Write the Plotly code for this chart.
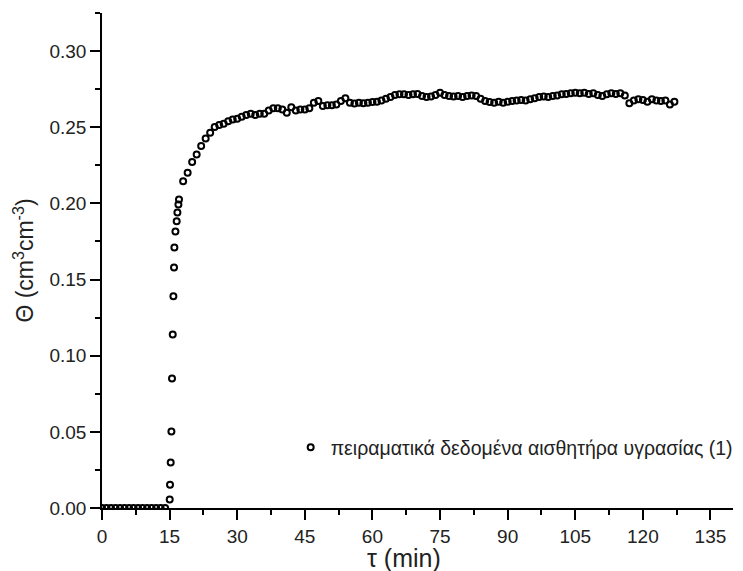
import plotly.graph_objects as go

# time (min) and volumetric water content readings
t_zero = [0, 1, 2, 3, 4, 5, 6, 7, 8, 9, 10, 11, 12, 13, 14]
v_zero = [0.0] * len(t_zero)

t_rise = [15.02, 15.09, 15.24, 15.40, 15.53, 15.69, 15.84, 15.98, 16.06, 16.29,
          16.57, 16.73, 16.95, 17.08]
v_rise = [0.0055, 0.0153, 0.0298, 0.0503, 0.0850, 0.1139, 0.1390, 0.1579, 0.1710,
          0.1816, 0.1883, 0.1940, 0.1993, 0.2026]

t_plateau = list(range(18, 128))
v_plateau = [
    0.2146, 0.2201, 0.2271, 0.2321, 0.2376, 0.2426, 0.2464, 0.2501, 0.2514, 0.2523,  # 18-27
    0.2540, 0.2551, 0.2556, 0.2569, 0.2580, 0.2589, 0.2580, 0.2589, 0.2589, 0.2610,  # 28-37
    0.2624, 0.2624, 0.2617, 0.2595, 0.2632, 0.2610, 0.2617, 0.2617, 0.2624, 0.2661,  # 38-47
    0.2672, 0.2639, 0.2645, 0.2645, 0.2650, 0.2672, 0.2690, 0.2661, 0.2655, 0.2661,  # 48-57
    0.2658, 0.2661, 0.2665, 0.2668, 0.2676, 0.2687, 0.2698, 0.2712, 0.2716, 0.2716,  # 58-67
    0.2712, 0.2716, 0.2719, 0.2705, 0.2698, 0.2702, 0.2712, 0.2727, 0.2712, 0.2705,  # 68-77
    0.2701, 0.2705, 0.2698, 0.2705, 0.2709, 0.2705, 0.2687, 0.2672, 0.2665, 0.2661,  # 78-87
    0.2668, 0.2661, 0.2668, 0.2672, 0.2676, 0.2679, 0.2676, 0.2683, 0.2690, 0.2698,  # 88-97
    0.2701, 0.2698, 0.2705, 0.2709, 0.2716, 0.2719, 0.2723, 0.2727, 0.2723, 0.2727,  # 98-107
    0.2719, 0.2723, 0.2712, 0.2705, 0.2716, 0.2723, 0.2719, 0.2723, 0.2709, 0.2658,  # 108-117
    0.2676, 0.2683, 0.2679, 0.2668, 0.2683, 0.2676, 0.2672, 0.2676, 0.2650, 0.2667,  # 118-127
]

t_all = t_zero + t_rise + t_plateau
v_all = v_zero + v_rise + v_plateau

x_ticks = [0, 15, 30, 45, 60, 75, 90, 105, 120, 135]
y_ticks = [0.00, 0.05, 0.10, 0.15, 0.20, 0.25, 0.30]

legend_name = "πειραματικά δεδομένα αισθητήρα υγρασίας (1)"
x_title = "τ (min)"
y_title = "Θ (cm<sup>3</sup>cm<sup>-3</sup>)"

FONT = "Liberation Sans, Arial, sans-serif"

fig = go.Figure()
fig.add_trace(go.Scatter(
    x=t_all, y=v_all, mode="markers", name=legend_name,
    marker=dict(symbol="circle-open", size=6, color="black",
                line=dict(width=2, color="black")),
))

axis_common = dict(
    showline=True, linecolor="black", linewidth=1.5, mirror=False, automargin=False,
    showgrid=False, zeroline=False, ticks="outside", ticklen=10, tickwidth=1.5,
    tickcolor="black", tickfont=dict(family=FONT, size=19, color="#222"),
)

# the page body adds an 8px offset, so the figure is sized to fit the 743x571 window
fig.update_layout(
    width=735, height=563,
    margin=dict(l=94, r=10, t=5, b=63, autoexpand=False),
    paper_bgcolor="white", plot_bgcolor="white",
    font=dict(family=FONT, color="#222"),
    showlegend=True,
    legend=dict(x=0.299, y=0.122, xanchor="left", yanchor="middle",
                bgcolor="rgba(0,0,0,0)", font=dict(family=FONT, size=19.5, color="#222")),
    xaxis=dict(range=[0, 140], tickvals=x_ticks,
               minor=dict(dtick=7.5, ticks="outside", ticklen=5, tickwidth=1.5, tickcolor="black"),
               **axis_common),
    yaxis=dict(range=[0, 0.325], tickvals=y_ticks, tickformat=".2f",
               minor=dict(dtick=0.025, ticks="outside", ticklen=5, tickwidth=1.5, tickcolor="black"),
               title=dict(text=y_title, font=dict(family=FONT, size=23, color="#222"), standoff=9),
               **axis_common),
    annotations=[dict(text=x_title, xref="paper", yref="paper", x=0.478, y=-0.069,
                      xanchor="center", yanchor="top", showarrow=False,
                      font=dict(family=FONT, size=25, color="#222"))],
)

fig.write_html("out.html")
